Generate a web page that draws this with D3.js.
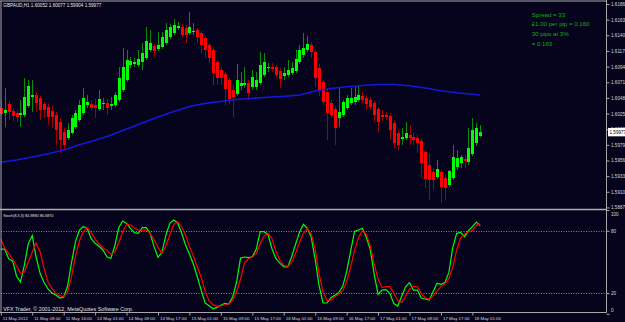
<!DOCTYPE html>
<html>
<head>
<meta charset="utf-8">
<script src="https://cdn.jsdelivr.net/npm/d3@7"></script>
<style>
  html, body { margin: 0; padding: 0; background: #05041c; overflow: hidden; }
  svg { display: block; }
</style>
</head>
<body>
<script>
var width = 625;
var height = 322;
var axisX = 606.5;
var subBottom = 312.5;
var font = "'Liberation Sans', Arial, sans-serif";

// Time labels, one every 8 hourly bars
var timeLabels = ["11 May 2012", "11 May 08:00", "11 May 16:00", "14 May 01:00", "14 May 09:00",
    "14 May 17:00", "15 May 01:00", "15 May 09:00", "15 May 17:00", "16 May 01:00", "16 May 09:00",
    "16 May 17:00", "17 May 01:00", "17 May 09:00", "17 May 17:00", "18 May 01:00"];

var priceTicks = [1.61860, 1.61630, 1.61400, 1.61170, 1.60940, 1.60710, 1.60480, 1.60250,
    1.60020, 1.59790, 1.59560, 1.59330, 1.59100, 1.58870];
var stochLevels = [100, 80, 20, 0];
var dashLevels = [80, 20];

var infoLines = ["Spread = 33", "\u00a31.00 per pip = 0.160", "30 pips at 3%", "= 0.183"];
var header = "GBPAUD,H1  1.60052 1.60077 1.59904 1.59977";

// GBPAUD H1 candles
var open = [1.60331,1.60258,1.60390,1.60287,1.60258,1.60229,1.60229,1.60361,1.60493,1.60523,
    1.60478,1.60390,1.60346,1.60287,1.60229,1.60126,1.59979,1.59890,1.59964,1.60052,
    1.60155,1.60258,1.60376,1.60390,1.60376,1.60317,1.60390,1.60405,1.60361,1.60376,
    1.60449,1.60596,1.60743,1.60964,1.60978,1.60964,1.61008,1.61066,1.61184,1.61243,
    1.61199,1.61228,1.61287,1.61375,1.61434,1.61507,1.61522,1.61507,1.61434,1.61449,
    1.61478,1.61434,1.61360,1.61258,1.61184,1.61008,1.60890,1.60831,1.60743,1.60596,
    1.60537,1.60655,1.60670,1.60699,1.60640,1.60640,1.60699,1.60817,1.60919,1.60934,
    1.60934,1.60875,1.60802,1.60817,1.60846,1.60875,1.61008,1.61111,1.61184,1.61258,
    1.61155,1.60919,1.60714,1.60567,1.60405,1.60317,1.60184,1.60229,1.60331,1.60405,
    1.60420,1.60449,1.60508,1.60478,1.60449,1.60405,1.60317,1.60229,1.60229,1.60214,
    1.60111,1.59964,1.59876,1.59890,1.59935,1.59905,1.59890,1.59846,1.59685,1.59494,
    1.59391,1.59317,1.59391,1.59302,1.59200,1.59302,1.59464,1.59523,1.59582,1.59538,
    1.59655,1.59817,1.59920];
var high = [1.60449,1.60625,1.60434,1.60331,1.60302,1.60449,1.60772,1.60743,1.60743,1.60567,
    1.60508,1.60420,1.60390,1.60361,1.60273,1.60184,1.60037,1.60111,1.60229,1.60302,
    1.60449,1.60625,1.60523,1.60449,1.60464,1.60596,1.60478,1.60464,1.60493,1.60567,
    1.60934,1.61213,1.61184,1.61081,1.61066,1.61184,1.61287,1.61522,1.61478,1.61272,
    1.61449,1.61449,1.61581,1.61566,1.61640,1.61596,1.61566,1.61552,1.61743,1.61581,
    1.61507,1.61463,1.61390,1.61287,1.61213,1.61037,1.60934,1.60861,1.60772,1.60670,
    1.60978,1.60861,1.60934,1.60743,1.60890,1.60861,1.61155,1.61140,1.60993,1.60993,
    1.60964,1.60919,1.60934,1.61037,1.61008,1.61184,1.61258,1.61434,1.61390,1.61302,
    1.61184,1.60978,1.60743,1.60625,1.60449,1.60361,1.60625,1.60449,1.60523,1.60625,
    1.60640,1.60655,1.60567,1.60523,1.60493,1.60434,1.60346,1.60302,1.60273,1.60258,
    1.60155,1.60008,1.60037,1.60126,1.60082,1.59964,1.59935,1.59890,1.59714,1.59670,
    1.59449,1.59567,1.59420,1.59347,1.59420,1.59787,1.59714,1.59641,1.59641,1.60037,
    1.60184,1.60111,1.60077];
var low = [1.60214,1.60052,1.60155,1.60140,1.60126,1.60052,1.60199,1.60331,1.60273,1.60273,
    1.60155,1.60184,1.60082,1.60037,1.59787,1.59670,1.59714,1.59861,1.59935,1.60023,
    1.60126,1.60229,1.60331,1.60302,1.60184,1.60287,1.60302,1.60229,1.60302,1.60346,
    1.60420,1.60567,1.60714,1.60919,1.60934,1.60934,1.60890,1.61037,1.61155,1.61081,
    1.61169,1.61199,1.61258,1.61346,1.61404,1.61478,1.61360,1.61287,1.61404,1.61404,
    1.61287,1.61140,1.61066,1.60993,1.60670,1.60670,1.60670,1.60376,1.60390,1.60199,
    1.60508,1.60596,1.60625,1.60449,1.60596,1.60596,1.60670,1.60787,1.60861,1.60861,
    1.60772,1.60625,1.60743,1.60787,1.60817,1.60846,1.60978,1.61066,1.61155,1.61066,
    1.60640,1.60508,1.60376,1.59861,1.60184,1.59787,1.60052,1.60199,1.60302,1.60376,
    1.60376,1.60420,1.60405,1.60302,1.60302,1.60126,1.59979,1.60140,1.60155,1.59861,
    1.59743,1.59714,1.59787,1.59861,1.59787,1.59787,1.59670,1.59302,1.59156,1.58979,
    1.59126,1.59288,1.58935,1.58979,1.59170,1.59273,1.59420,1.59449,1.59449,1.59494,
    1.59626,1.59773,1.59904];
var close = [1.60243,1.60302,1.60273,1.60214,1.60199,1.60258,1.60493,1.60655,1.60523,1.60405,
    1.60302,1.60302,1.60199,1.60199,1.60008,1.59861,1.59787,1.60008,1.60184,1.60258,
    1.60376,1.60478,1.60420,1.60331,1.60331,1.60464,1.60405,1.60331,1.60390,1.60523,
    1.60772,1.60934,1.61037,1.61022,1.61008,1.61052,1.61140,1.61316,1.61287,1.61169,
    1.61258,1.61375,1.61478,1.61522,1.61552,1.61537,1.61404,1.61404,1.61522,1.61463,
    1.61375,1.61258,1.61184,1.61066,1.60846,1.60772,1.60772,1.60611,1.60464,1.60493,
    1.60743,1.60699,1.60699,1.60552,1.60787,1.60743,1.60964,1.61008,1.60934,1.60905,
    1.60817,1.60758,1.60846,1.60890,1.60919,1.61052,1.61184,1.61213,1.61272,1.61155,
    1.60772,1.60596,1.60420,1.60258,1.60229,1.60037,1.60273,1.60420,1.60478,1.60478,
    1.60493,1.60523,1.60449,1.60390,1.60346,1.60229,1.60126,1.60199,1.60199,1.60008,
    1.59817,1.59787,1.59905,1.59964,1.59890,1.59861,1.59817,1.59523,1.59288,1.59273,
    1.59273,1.59435,1.59170,1.59156,1.59405,1.59611,1.59596,1.59611,1.59552,1.59743,
    1.60008,1.60037,1.59977];

// moving average, read every 4 bars
var maBars = [0,4,8,12,16,20,24,28,32,36,40,44,48,52,56,60,64,68,72,76,80,84,88,92,96,100,104,108,112,116,120,122];
var maValues = [1.59535,1.59567,1.59611,1.59660,1.59714,1.59792,1.59857,1.59930,1.60023,1.60111,
    1.60199,1.60280,1.60353,1.60400,1.60426,1.60456,1.60475,1.60489,1.60502,1.60522,
    1.60581,1.60618,1.60643,1.60662,1.60678,1.60678,1.60658,1.60625,1.60584,1.60556,
    1.60534,1.60522];

// Stochastic(8,3,3)
var stochK = [62.4,62.4,53.1,50.9,36.4,30.6,47.0,67.6,75.3,54.4,
    39.0,30.3,23.9,20.0,18.1,15.2,15.9,26.8,49.3,69.5,
    80.4,84.1,82.0,72.4,67.9,65.0,61.5,55.0,53.3,65.3,
    83.0,89.4,87.1,82.3,78.2,77.5,83.0,83.0,77.5,64.7,
    54.4,59.2,75.6,87.1,90.3,87.5,77.8,66.3,57.6,48.0,
    35.5,22.6,10.5,7.8,4.9,6.2,8.2,10.1,9.4,16.2,
    30.6,53.7,54.7,54.1,54.9,62.1,79.1,79.1,76.2,62.7,
    53.4,48.8,45.4,44.9,55.0,66.9,78.6,86.3,82.3,73.7,
    52.2,26.8,10.4,10.4,15.5,17.8,20.4,26.5,40.6,59.9,
    79.4,80.7,82.3,73.7,62.1,38.3,18.7,22.9,23.3,19.7,
    9.8,7.5,17.0,26.0,30.0,22.9,22.9,15.2,14.3,13.3,
    21.3,29.4,28.4,30.0,39.6,63.7,77.5,78.5,74.3,80.1,
    83.9,88.4,84.988];
var stochD = [72.0,63.4,58.2,52.8,46.0,39.0,40.0,50.2,59.2,67.9,
    59.9,43.8,30.6,24.5,19.7,17.2,16.5,21.0,35.8,55.0,
    70.1,79.1,83.0,78.1,72.0,67.2,63.7,61.1,57.4,59.5,
    68.2,78.8,86.2,85.5,82.6,80.7,80.7,80.7,77.5,71.4,
    64.0,58.2,65.3,75.9,85.9,88.7,83.9,75.9,64.7,55.7,
    45.1,35.0,21.6,12.7,8.8,7.2,7.7,8.7,9.4,12.7,
    21.2,33.8,48.9,53.1,54.5,58.1,67.2,74.9,77.5,72.4,
    60.2,51.8,46.8,45.4,49.4,58.1,68.8,77.5,82.3,76.9,
    62.1,38.3,20.4,13.0,13.1,16.5,19.1,22.0,31.0,44.8,
    60.8,73.6,80.1,76.5,65.6,48.0,33.5,25.2,26.1,26.1,
    20.0,12.8,11.0,17.0,23.9,26.5,26.1,19.4,15.5,13.9,
    17.2,22.0,26.1,29.0,33.8,45.1,61.5,73.3,77.2,78.8,
    80.2,85.2,86.687];

var svg = d3.select("body").append("svg")
    .attr("width", width)
    .attr("height", height)
    .style("font-family", font);

svg.append("rect")
    .attr("width", width)
    .attr("height", height)
    .attr("fill", "#05041c");

// scales: bar index -> x, price -> y (main window), stoch -> y (sub window)
var x = d3.scaleLinear().domain([0, open.length - 1]).range([0.8, 480.26]);
var y = d3.scaleLinear().domain([1.58870, 1.61860]).range([207.46, 4]);
var ys = d3.scaleLinear().domain([0, 100]).range([313.8, 210]);

function px(i) { return Math.round(x(i)) + 0.5; }

// stoch level lines
svg.selectAll(".level")
    .data(dashLevels)
    .enter().append("line")
        .attr("class", "level")
        .attr("x1", 1).attr("x2", axisX)
        .attr("y1", function(d) { return Math.round(ys(d)) + 0.5; })
        .attr("y2", function(d) { return Math.round(ys(d)) + 0.5; })
        .attr("stroke", "#8a8a8a")
        .attr("stroke-dasharray", "1,1.5");

// candles
var bars = open.map(function(o, i) {
    return {i: i, o: o, h: high[i], l: low[i], c: close[i]};
});

var candle = svg.append("g").selectAll("g")
    .data(bars)
    .enter().append("g");

candle.append("line")
    .attr("x1", function(d) { return px(d.i); })
    .attr("x2", function(d) { return px(d.i); })
    .attr("y1", function(d) { return y(d.h); })
    .attr("y2", function(d) { return y(d.l); })
    .attr("stroke", function(d) { return d.c >= d.o ? "#0a8a0a" : "#a00000"; })
    .attr("stroke-width", 1);

candle.append("rect")
    .attr("x", function(d) { return Math.round(x(d.i)) - 1; })
    .attr("width", 3)
    .attr("y", function(d) { return y(Math.max(d.o, d.c)); })
    .attr("height", function(d) { return Math.max(1, Math.abs(y(d.o) - y(d.c))); })
    .attr("fill", function(d) { return d.c >= d.o ? "#00ff00" : "#ff0000"; });

// moving average
svg.append("path")
    .datum(d3.zip(maBars, maValues))
    .attr("fill", "none")
    .attr("stroke", "#1616dc")
    .attr("stroke-width", 1.6)
    .attr("d", d3.line()
        .x(function(d) { return x(d[0]); })
        .y(function(d) { return y(d[1]); }));

// stochastic lines
var stochLine = d3.line()
    .x(function(d, i) { return x(i); })
    .y(function(d) { return ys(d); });

svg.append("path")
    .datum(stochK)
    .attr("fill", "none")
    .attr("stroke", "#00ff00")
    .attr("stroke-width", 1.2)
    .attr("d", stochLine);

svg.append("path")
    .datum(stochD)
    .attr("fill", "none")
    .attr("stroke", "#ff0000")
    .attr("stroke-width", 1.2)
    .attr("d", stochLine);

// window frames
var frame = [[0, 1, axisX, 1], [1, 1, 1, subBottom], [0, subBottom, axisX, subBottom],
    [axisX, 0, axisX, subBottom]];
svg.selectAll(".frame")
    .data(frame)
    .enter().append("line")
        .attr("x1", function(d) { return d[0]; })
        .attr("y1", function(d) { return d[1]; })
        .attr("x2", function(d) { return d[2]; })
        .attr("y2", function(d) { return d[3]; })
        .attr("stroke", "#a8a8a8");

svg.append("line")
    .attr("x1", 0).attr("x2", axisX)
    .attr("y1", 209.5).attr("y2", 209.5)
    .attr("stroke", "#b0b0b0")
    .attr("stroke-width", 1.6);

// price axis
var priceAxis = svg.append("g")
    .attr("transform", "translate(" + axisX + ",0)")
    .call(d3.axisRight(y).tickValues(priceTicks).tickSize(3).tickPadding(1.5)
        .tickFormat(d3.format(".5f")));
priceAxis.select(".domain").remove();
priceAxis.selectAll("line").attr("stroke", "#a8a8a8");
priceAxis.selectAll("text")
    .attr("fill", "#d8d8d8")
    .attr("font-size", 4.6)
    .attr("font-family", font);

// current price box
var last = close[close.length - 1];
svg.append("rect")
    .attr("x", axisX + 1.5).attr("y", y(last) - 4.2)
    .attr("width", 19).attr("height", 8.4)
    .attr("fill", "#ffffff");
svg.append("text")
    .attr("x", axisX + 3).attr("y", y(last) + 1.7)
    .attr("font-size", 4.6)
    .attr("fill", "#000000")
    .text(d3.format(".5f")(last));

// stoch axis
var stochAxis = svg.append("g")
    .attr("transform", "translate(" + axisX + ",0)")
    .call(d3.axisRight(ys).tickValues(stochLevels).tickSize(3).tickPadding(1.5));
stochAxis.select(".domain").remove();
stochAxis.selectAll("line").attr("stroke", "#a8a8a8");
stochAxis.selectAll("text")
    .attr("fill", "#d8d8d8")
    .attr("font-size", 4.6)
    .attr("font-family", font)
    .attr("dy", function(d) { return d === 100 ? "1.2em" : (d === 0 ? "-0.5em" : "0.32em"); });

// time axis
var timeAxis = svg.append("g")
    .attr("transform", "translate(0," + subBottom + ")")
    .call(d3.axisBottom(x).tickValues(d3.range(0, 121, 8)).tickSize(3).tickPadding(1)
        .tickFormat(function(d, i) { return timeLabels[i]; }));
timeAxis.select(".domain").remove();
timeAxis.selectAll("line").attr("stroke", "#a8a8a8");
timeAxis.selectAll("text")
    .attr("fill", "#d8d8d8")
    .attr("font-size", 4.4)
    .attr("font-family", font)
    .attr("text-anchor", "start")
    .attr("dx", 1.5);

// texts
svg.append("text")
    .attr("x", 3.3).attr("y", 6.8)
    .attr("font-size", 4.6)
    .attr("fill", "#e8e8e8")
    .attr("textLength", 98).attr("lengthAdjust", "spacingAndGlyphs")
    .text(header);

svg.append("text")
    .attr("x", 3.3).attr("y", 216.6)
    .attr("font-size", 4.2)
    .attr("fill", "#e0e0e0")
    .attr("textLength", 50).attr("lengthAdjust", "spacingAndGlyphs")
    .text("Stoch(8,3,3) " + d3.format(".4f")(stochK[stochK.length - 1]) + " " +
        d3.format(".4f")(stochD[stochD.length - 1]));

svg.append("text")
    .attr("x", 3.3).attr("y", 310.8)
    .attr("font-size", 4.6)
    .attr("fill", "#e0e0e0")
    .attr("textLength", 130).attr("lengthAdjust", "spacingAndGlyphs")
    .text("VFX Trader, \u00a9 2001-2012, MetaQuotes Software Corp.");

svg.selectAll(".info")
    .data(infoLines)
    .enter().append("text")
        .attr("class", "info")
        .attr("x", 531.7)
        .attr("y", function(d, i) { return 16.8 + i * 9.6; })
        .attr("font-size", 6.1)
        .attr("fill", "#18a818")
        .text(function(d) { return d; });
</script>
</body>
</html>
